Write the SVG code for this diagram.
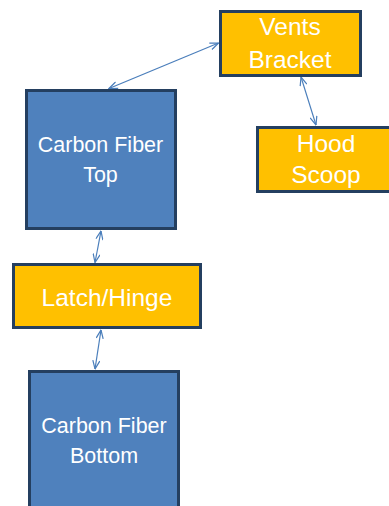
<svg xmlns="http://www.w3.org/2000/svg" width="389" height="506" viewBox="0 0 389 506">
<style>
.blue{fill:#4F81BD;stroke:#243F60;stroke-width:3}
.gold{fill:#FFC000;stroke:#243F60;stroke-width:3}
.t{fill:#ffffff;font-family:"Liberation Sans","Open Sans",sans-serif;text-anchor:middle}
.s{font-size:21.5px}
.l{font-size:24.5px}
.c{stroke:#4A7EBB;stroke-width:1.2;fill:none;marker-start:url(#a);marker-end:url(#a)}
</style>
<defs>
<marker id="a" viewBox="0 0 10 8" refX="9.5" refY="4" markerWidth="10" markerHeight="8" markerUnits="userSpaceOnUse" orient="auto-start-reverse">
<path d="M1,0.5 L9.5,4 L1,7.5" fill="none" stroke="#4A7EBB" stroke-width="1.2"/>
</marker>
</defs>
<rect width="389" height="506" fill="#ffffff"/>
<g id="connectors">
<line class="c" x1="109" y1="88.5" x2="218.5" y2="43"/>
<line class="c" x1="301" y1="77" x2="316" y2="125"/>
<line class="c" x1="101" y1="231" x2="95" y2="262.5"/>
<line class="c" x1="101" y1="330" x2="95" y2="369"/>
</g>
<g id="vents-bracket">
<rect class="gold" x="220.5" y="11.5" width="140" height="64"/>
<text class="t l" x="290" y="35">Vents</text>
<text class="t l" x="290" y="68">Bracket</text>
</g>
<g id="carbon-fiber-top">
<rect class="blue" x="26.5" y="90.5" width="149" height="138"/>
<text class="t s" x="100.5" y="152">Carbon Fiber</text>
<text class="t s" x="100.5" y="182">Top</text>
</g>
<g id="hood-scoop">
<rect class="gold" x="257.5" y="127.5" width="140" height="64"/>
<text class="t l" x="326" y="152">Hood</text>
<text class="t l" x="326" y="183">Scoop</text>
</g>
<g id="latch-hinge">
<rect class="gold" x="13.5" y="264.5" width="187" height="63"/>
<text class="t l" x="107" y="306">Latch/Hinge</text>
</g>
<g id="carbon-fiber-bottom">
<rect class="blue" x="29.5" y="371.5" width="149" height="140"/>
<text class="t s" x="104" y="433">Carbon Fiber</text>
<text class="t s" x="104" y="463">Bottom</text>
</g>
</svg>
